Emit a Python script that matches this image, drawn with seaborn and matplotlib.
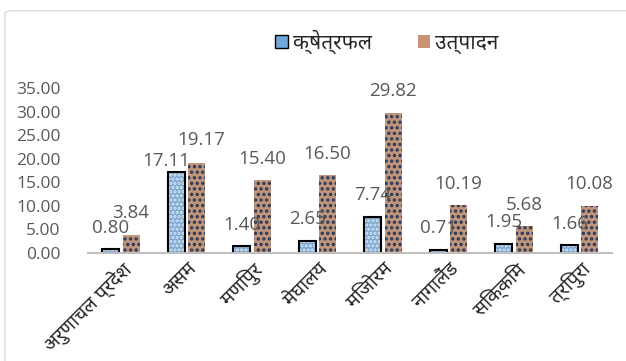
import matplotlib
matplotlib.use("Agg")
import matplotlib.pyplot as plt
import seaborn as sns
import pandas as pd
from matplotlib.patches import Patch, Rectangle, FancyBboxPatch

states = ["अरुणाचल प्रदेश", "असम", "मणिपुर", "मेघालय", "मिजोरम", "नागालैंड", "सिक्किम", "त्रिपुरा"]
area = [0.80, 17.11, 1.40, 2.65, 7.74, 0.71, 1.95, 1.66]
production = [3.84, 19.17, 15.40, 16.50, 29.82, 10.19, 5.68, 10.08]
series = ["क्षेत्रफल", "उत्पादन"]
yticks = [0, 5, 10, 15, 20, 25, 30, 35]

df = pd.DataFrame({
    "state": states * 2,
    "value": area + production,
    "series": [series[0]] * len(states) + [series[1]] * len(states),
})

sns.set_style("white")
deva_font = "Noto Sans Devanagari"
plt.rcParams["font.family"] = ["Open Sans", "DejaVu Sans"]
plt.rcParams["hatch.linewidth"] = 1.6

fig = plt.figure(figsize=(6.26, 3.61), dpi=100)
ax = fig.add_axes([0.141, 0.299, 0.837, 0.457])

sns.barplot(data=df, x="state", y="value", hue="series",
            palette=["#6fa8dc", "#c99272"], width=0.62, gap=0.15,
            legend=False, ax=ax)

# patterns: light dotted blue with black outline, tan with dark dots
n = len(states)
for i, p in enumerate(ax.patches[:2 * n]):
    if i < n:
        p.set_edgecolor("#d6e8f8")
        p.set_hatch("....")
        p.set_linewidth(0)
        ax.add_patch(Rectangle((p.get_x(), p.get_y()), p.get_width(), p.get_height(),
                               fill=False, edgecolor="black", linewidth=1.5))
    else:
        p.set_edgecolor("#2a3550")
        p.set_hatch("...")
        p.set_linewidth(0)

labels = [ax.bar_label(cont, fmt="%.2f", padding=9, color="#595959", fontsize=13.5)
          for cont in ax.containers]

# nudge apart value labels of near-equal bar pairs so they don't collide
for i in range(n):
    if abs(area[i] - production[i]) < 3:
        labels[0][i].xyann = (-7, 2)
        labels[1][i].xyann = (3, 10)

ax.set_ylim(0, 35)
ax.set_yticks(yticks)
ax.set_yticklabels([f"{v:.2f}" for v in yticks], color="#595959", fontsize=12.5)
ax.set_xlabel("")
ax.set_ylabel("")
ax.set_xticks(range(n))
ax.set_xticklabels(states, rotation=45, ha="right", rotation_mode="anchor",
                   fontsize=14, family=[deva_font, "DejaVu Sans"])
ax.tick_params(axis="y", length=0, pad=20)
ax.tick_params(axis="x", length=0, pad=4)
for s in ["top", "right", "left"]:
    ax.spines[s].set_visible(False)
ax.spines["bottom"].set_color("#bfbfbf")
ax.spines["bottom"].set_linewidth(1.5)

handles = [Patch(facecolor="#6fa8dc", edgecolor="black", label=series[0]),
           Patch(facecolor="#c99272", edgecolor="none", label=series[1])]
fig.legend(handles=handles, loc="center", bbox_to_anchor=(0.618, 0.884), ncol=2,
           frameon=False, prop={"family": [deva_font, "DejaVu Sans"], "size": 15},
           handlelength=0.6, handleheight=0.6, handletextpad=0.25, columnspacing=2.2)

fig.patches.append(FancyBboxPatch((0.008, -0.05), 1.1, 1.02, transform=fig.transFigure,
                                  boxstyle="round,pad=0,rounding_size=0.01",
                                  facecolor="none", edgecolor="#d9d9d9", linewidth=1))

fig.savefig("out.png", dpi=100)
